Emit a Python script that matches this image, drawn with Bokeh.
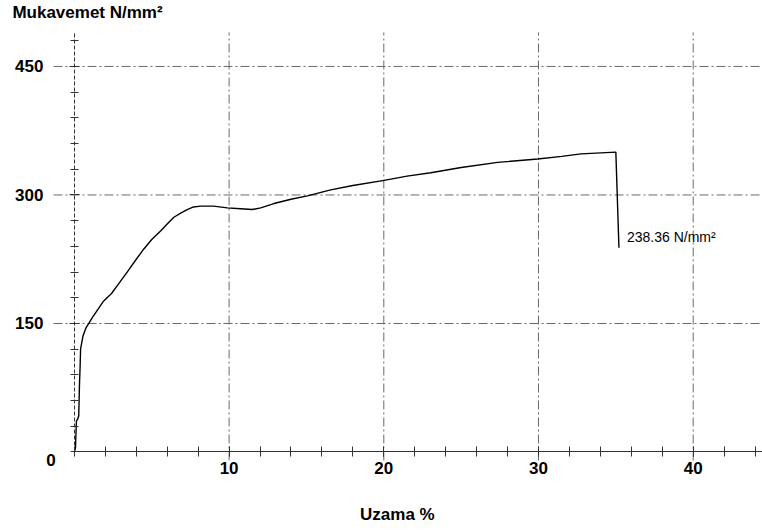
from bokeh.plotting import figure
from bokeh.models import LinearAxis, FixedTicker, Range1d, Label, Grid, ColumnDataSource
from bokeh.embed import file_html
from bokeh.resources import INLINE

# Tensile test curve: elongation (%) vs. strength (N/mm²)
elongation = [0.0, 0.07, 0.13, 0.2, 0.28, 0.33, 0.37, 0.4, 0.55, 0.75, 0.93, 1.2,
              1.5, 1.88, 2.4, 2.76, 3.41, 4.0, 4.49, 5.0, 5.57, 6.0, 6.43, 6.9,
              7.29, 7.7, 8.16, 9.0, 9.88, 10.74, 11.5, 12.04, 12.9, 14.0, 15.06,
              16.57, 18.0, 20.02, 21.5, 23.04, 25.0, 27.36, 29.95, 31.5, 32.75,
              35.0, 35.2]
strength = [0, 5, 36, 38, 42, 80, 100, 120, 135, 145, 150, 158, 166, 176, 185,
            194, 210, 225, 237, 248, 258, 266, 274, 279, 283, 286, 287, 287, 285,
            284, 283, 285, 290, 295, 299, 306, 311, 317, 322, 326, 332, 338, 342,
            345, 348, 350, 238.36]

break_value = strength[-1]
x_ticks = [10, 20, 30, 40]
y_ticks = [150, 300, 450]
x_minor = list(range(0, 46, 2))
y_minor = list(range(0, 481, 30))

FONT = "Liberation Sans"

# the frame fills the whole canvas; the chart area is drawn inside it
X0, X1 = -4.777, 44.48
Y0, Y1 = -91.63, 527.0
GRID_X0 = -1.35                  # left end of the horizontal grid lines
GRID_Y0, GRID_Y1 = -9.9, 489.7   # vertical extent of the vertical grid lines

p = figure(width=762, height=530, output_backend="svg", toolbar_location=None,
           x_range=Range1d(X0, X1), y_range=Range1d(Y0, Y1),
           x_axis_location=None, y_axis_location=None,
           min_border=0, outline_line_color=None)
p.center = [c for c in p.center if not isinstance(c, Grid)]

grid_kw = dict(line_color="#6a6a6a", line_width=1, line_dash="9 3 2 3")
p.segment(x0=x_ticks, x1=x_ticks, y0=[GRID_Y0] * len(x_ticks),
          y1=[GRID_Y1] * len(x_ticks), **grid_kw)
p.segment(x0=[GRID_X0] * len(y_ticks), x1=[X1] * len(y_ticks),
          y0=y_ticks, y1=y_ticks, **grid_kw)

label_kw = dict(major_label_text_font=FONT, major_label_text_font_style="bold",
                major_label_text_font_size="17px", major_label_text_color="black")

# strength axis through the origin, crossing ticks every 30
yaxis = LinearAxis(fixed_location=0, bounds=(0, GRID_Y1),
                   ticker=FixedTicker(ticks=y_ticks, minor_ticks=y_minor),
                   axis_line_color="#333333", axis_line_dash="4 2",
                   major_tick_in=5, major_tick_out=5, minor_tick_in=4, minor_tick_out=4,
                   major_tick_line_color="#333333", minor_tick_line_color="#333333",
                   major_label_standoff=26, **label_kw)
p.add_layout(yaxis, "left")

# elongation axis through the origin, crossing ticks every 2 %
xaxis = LinearAxis(fixed_location=0, bounds=(0, X1),
                   ticker=FixedTicker(ticks=x_ticks, minor_ticks=x_minor),
                   axis_line_color="#333333",
                   major_tick_in=5, major_tick_out=5, minor_tick_in=5, minor_tick_out=5,
                   major_tick_line_color="#333333", minor_tick_line_color="#333333",
                   major_label_standoff=5, **label_kw)
p.add_layout(xaxis, "below")

src = ColumnDataSource(data=dict(x=elongation, y=strength))
p.line("x", "y", source=src, line_color="black", line_width=1.4)

text_kw = dict(text_font=FONT, text_color="black", text_font_style="bold",
               text_font_size="17px")
p.add_layout(Label(x=0, y=0, x_offset=-23.5, y_offset=-8.5, text="0",
                   text_align="center", text_baseline="middle", **text_kw))
p.add_layout(Label(x=0, y=0, x_offset=-62, y_offset=449, text="Mukavemet N/mm²",
                   text_align="left", text_baseline="top", **text_kw))
p.add_layout(Label(x=0, y=0, x_offset=323, y_offset=-63, text="Uzama %",
                   text_align="center", text_baseline="middle", **text_kw))
p.add_layout(Label(x=elongation[-1], y=break_value, x_offset=8, y_offset=11,
                   text=f"{break_value:.2f} N/mm²", text_align="left",
                   text_baseline="middle", text_font_size="14px",
                   text_font=FONT, text_color="black"))

open("out.html", "w").write(file_html(p, INLINE))
